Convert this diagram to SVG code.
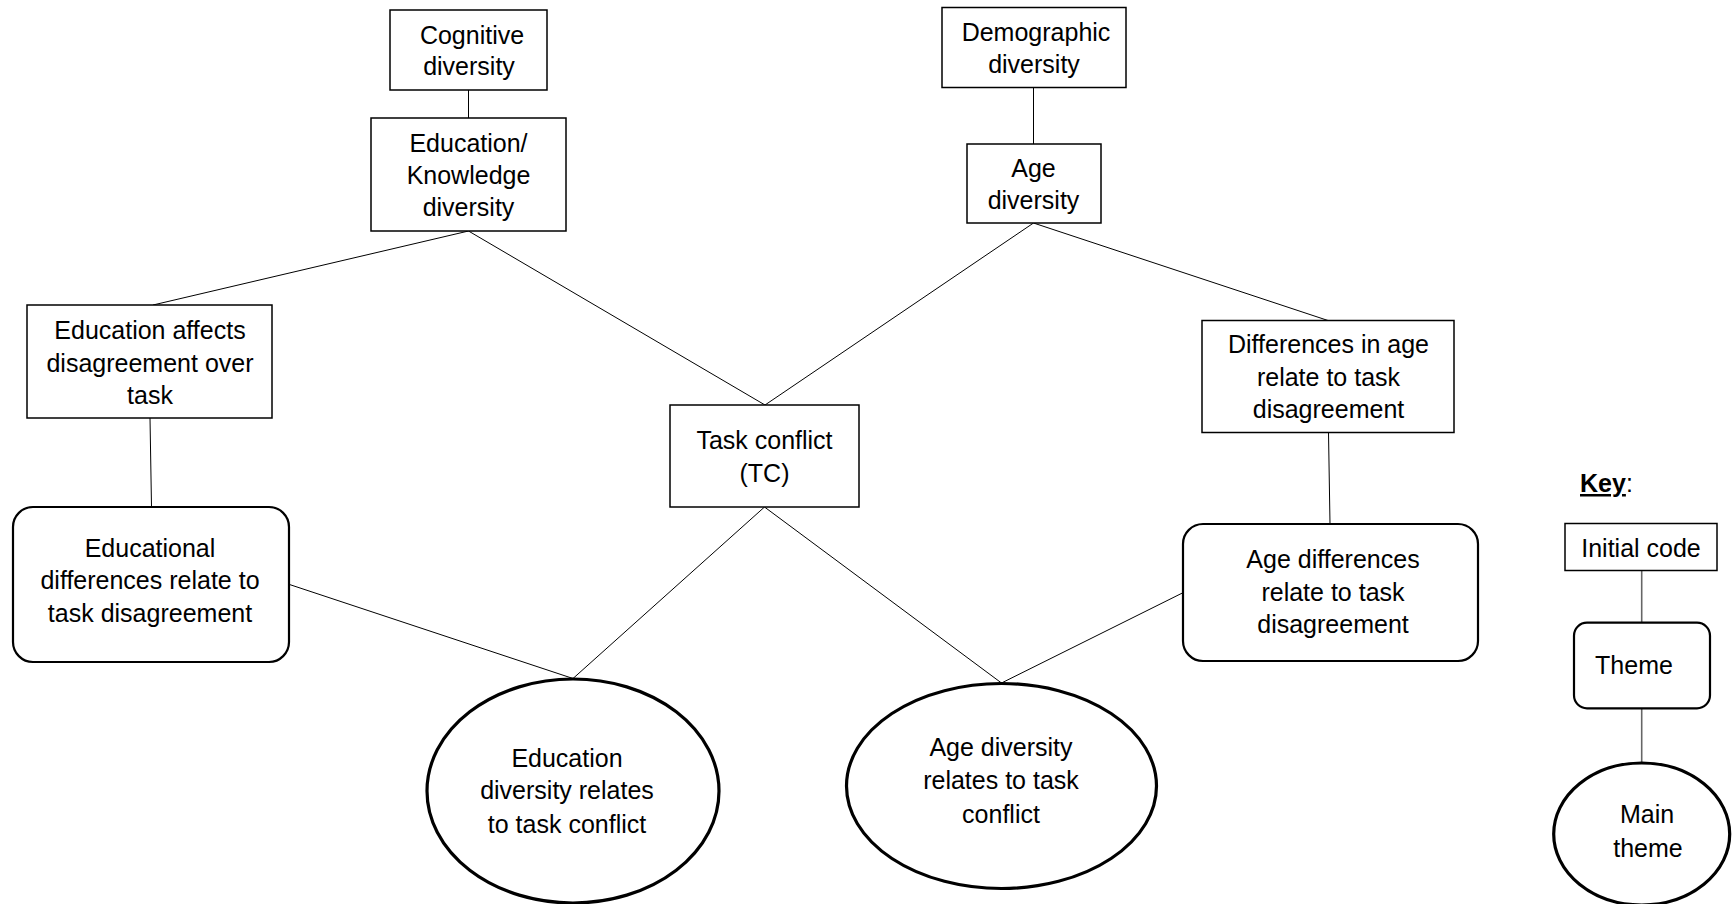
<svg xmlns="http://www.w3.org/2000/svg" width="1733" height="904" viewBox="0 0 1733 904">
  <style>
    .code { fill: #ffffff; stroke: #000000; stroke-width: 1.5; }
    .theme { fill: #ffffff; stroke: #000000; stroke-width: 2.2; }
    .main { fill: #ffffff; stroke: #000000; stroke-width: 3.2; }
    .link { stroke: #000000; stroke-width: 1; fill: none; }
    .klink { stroke: #666666; stroke-width: 1.6; fill: none; }
    text { font-family: "Liberation Sans", Arial, sans-serif; font-size: 25px; fill: #000000; text-anchor: middle; }
    .key { text-anchor: start; }
  </style>

  <rect width="1733" height="904" fill="#ffffff"/>

  <!-- connectors -->
  <g id="connectors">
    <line class="link" x1="468.5" y1="90" x2="468.5" y2="118"/>
    <line class="link" x1="1033.5" y1="87.5" x2="1033.5" y2="144"/>
    <line class="link" x1="468.5" y1="231" x2="153" y2="305"/>
    <line class="link" x1="468.5" y1="231" x2="765" y2="405"/>
    <line class="link" x1="1033.5" y1="223" x2="765" y2="405"/>
    <line class="link" x1="1033.5" y1="223" x2="1328" y2="320.5"/>
    <line class="link" x1="150" y1="418" x2="151.5" y2="507"/>
    <line class="link" x1="1328.5" y1="432.5" x2="1330" y2="524"/>
    <line class="link" x1="289.5" y1="584.5" x2="573" y2="678.5"/>
    <line class="link" x1="764.5" y1="507" x2="573" y2="678.5"/>
    <line class="link" x1="764.5" y1="507" x2="1001.5" y2="683"/>
    <line class="link" x1="1183" y1="592.7" x2="1001.5" y2="683"/>
    <line class="klink" x1="1641.7" y1="571" x2="1641.7" y2="622.7"/>
    <line class="klink" x1="1641.7" y1="708" x2="1641.7" y2="763"/>
  </g>

  <!-- initial codes -->
  <g id="cognitive">
    <rect class="code" x="390" y="10" width="157" height="80"/>
    <text x="472" y="44">Cognitive</text>
    <text x="469" y="75">diversity</text>
  </g>
  <g id="edu-knowledge">
    <rect class="code" x="371" y="118" width="195" height="113"/>
    <text x="468.5" y="152">Education/</text>
    <text x="468.5" y="184">Knowledge</text>
    <text x="468.5" y="216">diversity</text>
  </g>
  <g id="edu-affects">
    <rect class="code" x="27" y="305" width="245" height="113"/>
    <text x="150" y="339">Education affects</text>
    <text x="150" y="372">disagreement over</text>
    <text x="150" y="404">task</text>
  </g>
  <g id="task-conflict">
    <rect class="code" x="670" y="405" width="189" height="102"/>
    <text x="764.5" y="449">Task conflict</text>
    <text x="764.5" y="482">(TC)</text>
  </g>
  <g id="demographic">
    <rect class="code" x="942" y="7.5" width="184" height="80"/>
    <text x="1036" y="41">Demographic</text>
    <text x="1034" y="73">diversity</text>
  </g>
  <g id="age-diversity">
    <rect class="code" x="967" y="144" width="134" height="79"/>
    <text x="1033.5" y="177">Age</text>
    <text x="1033.5" y="209">diversity</text>
  </g>
  <g id="diff-age">
    <rect class="code" x="1202" y="320.5" width="252" height="112"/>
    <text x="1328.5" y="353">Differences in age</text>
    <text x="1328.5" y="386">relate to task</text>
    <text x="1328.5" y="418">disagreement</text>
  </g>

  <!-- themes -->
  <g id="edu-differences">
    <rect class="theme" x="13" y="507" width="276" height="155" rx="20" ry="20"/>
    <text x="150" y="557">Educational</text>
    <text x="150" y="589">differences relate to</text>
    <text x="150" y="622">task disagreement</text>
  </g>
  <g id="age-differences">
    <rect class="theme" x="1183" y="524" width="295" height="137" rx="20" ry="20"/>
    <text x="1333" y="568">Age differences</text>
    <text x="1333" y="601">relate to task</text>
    <text x="1333" y="633">disagreement</text>
  </g>

  <!-- main themes -->
  <g id="edu-main">
    <ellipse class="main" cx="573" cy="791" rx="146" ry="112"/>
    <text x="567" y="767">Education</text>
    <text x="567" y="799">diversity relates</text>
    <text x="567" y="833">to task conflict</text>
  </g>
  <g id="age-main">
    <ellipse class="main" cx="1001.5" cy="786" rx="155" ry="102.5"/>
    <text x="1001" y="756">Age diversity</text>
    <text x="1001" y="789">relates to task</text>
    <text x="1001" y="823">conflict</text>
  </g>

  <!-- legend -->
  <g id="key">
    <text class="key" x="1580" y="492"><tspan font-weight="bold" text-decoration="underline">Key</tspan>:</text>
    <g id="key-code">
      <rect class="code" x="1565" y="523.5" width="152" height="47"/>
      <text x="1641" y="557">Initial code</text>
    </g>
    <g id="key-theme">
      <rect class="theme" x="1574" y="622.7" width="136" height="85.6" rx="13" ry="13"/>
      <text x="1634" y="674">Theme</text>
    </g>
    <g id="key-main">
      <ellipse class="main" cx="1641.7" cy="834" rx="88" ry="71"/>
      <text x="1647" y="823">Main</text>
      <text x="1648" y="857">theme</text>
    </g>
  </g>
</svg>
